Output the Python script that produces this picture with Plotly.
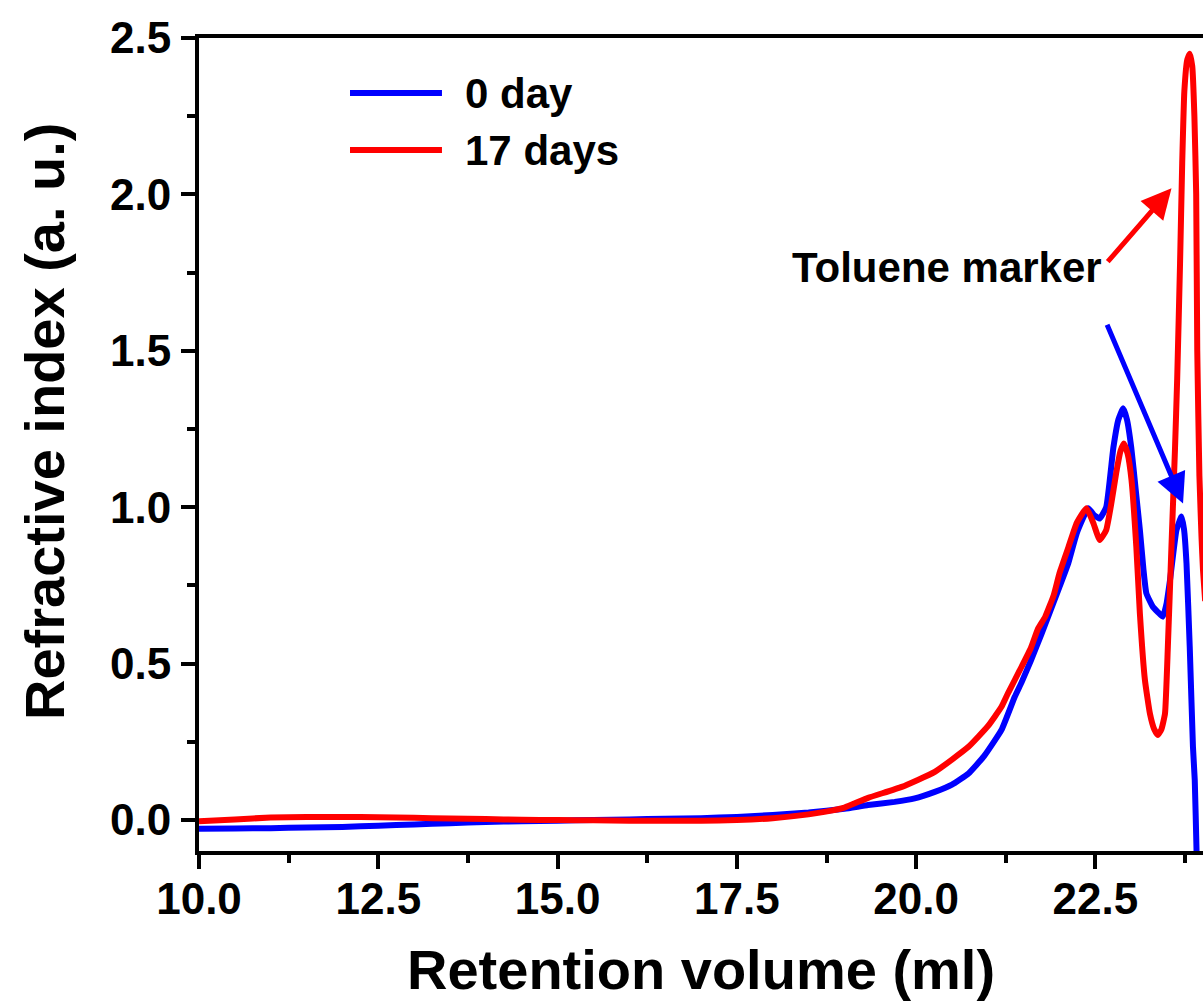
import plotly.graph_objects as go

# ---- data ----
vol_0day = [10.0, 10.5, 11.0, 11.5, 12.0, 12.5, 13.0, 13.5, 14.0, 14.5, 15.0, 15.5, 16.0, 16.5,
            17.0, 17.5, 18.0, 18.5, 19.0, 19.33, 19.7, 19.98, 20.26, 20.5, 20.73, 20.95, 21.19,
            21.375, 21.47, 21.6, 21.75, 22.0, 22.12, 22.24, 22.40, 22.48, 22.56, 22.65, 22.75,
            22.82, 22.886, 22.94, 23.0, 23.06, 23.12, 23.17, 23.21, 23.30, 23.37, 23.44, 23.49,
            23.54, 23.63, 23.70, 23.735, 23.77, 23.815, 23.86, 23.885, 23.91, 23.93]
ri_0day = [-0.028, -0.027, -0.026, -0.024, -0.022, -0.018, -0.014, -0.010, -0.006, -0.004, -0.002,
           0.000, 0.002, 0.004, 0.006, 0.010, 0.016, 0.024, 0.036, 0.048, 0.058, 0.069, 0.090,
           0.113, 0.149, 0.205, 0.288, 0.394, 0.440, 0.510, 0.596, 0.746, 0.820, 0.917, 0.997,
           0.975, 0.964, 1.000, 1.190, 1.280, 1.316, 1.280, 1.190, 1.060, 0.927, 0.800, 0.725,
           0.682, 0.665, 0.650, 0.690, 0.767, 0.927, 0.970, 0.930, 0.820, 0.554, 0.234, 0.128,
           -0.100, -0.300]

vol_17days = [10.0, 10.5, 11.0, 11.5, 12.0, 12.5, 13.0, 13.5, 14.0, 14.5, 15.0, 15.5, 16.0, 16.5,
              17.0, 17.5, 18.0, 18.5, 18.72, 19.0, 19.33, 19.8, 20.26, 20.73, 21.0, 21.19, 21.28,
              21.47, 21.6, 21.70, 21.8, 21.92, 22.0, 22.12, 22.24, 22.375, 22.47, 22.56, 22.65,
              22.72, 22.79, 22.85, 22.896, 22.95, 23.003, 23.07, 23.12, 23.19, 23.26, 23.32, 23.37,
              23.42, 23.47, 23.51, 23.56, 23.61, 23.64, 23.68, 23.71, 23.74, 23.78, 23.815, 23.85,
              23.88, 23.905, 23.92, 23.95, 23.98, 24.0, 24.03]
ri_17days = [-0.004, 0.002, 0.008, 0.010, 0.010, 0.009, 0.007, 0.005, 0.003, 0.001, 0.000, -0.001,
             -0.002, -0.002, -0.002, 0.000, 0.006, 0.018, 0.026, 0.040, 0.071, 0.106, 0.154, 0.234,
             0.300, 0.362, 0.405, 0.490, 0.550, 0.612, 0.650, 0.720, 0.790, 0.870, 0.950, 0.997,
             0.950, 0.895, 0.927, 1.010, 1.110, 1.180, 1.204, 1.170, 1.087, 0.874, 0.660, 0.448,
             0.340, 0.290, 0.272, 0.290, 0.340, 0.554, 0.874, 1.190, 1.410, 1.780, 2.100, 2.330,
             2.430, 2.450, 2.410, 2.250, 2.000, 1.500, 1.100, 0.900, 0.800, 0.700]

series_names = ["0 day", "17 days"]
series_colors = ["#0000FF", "#FF0000"]

x_ticks = [10.0, 12.5, 15.0, 17.5, 20.0, 22.5]
y_ticks = [0.0, 0.5, 1.0, 1.5, 2.0, 2.5]

FONT = "Liberation Sans, Arial, Helvetica, sans-serif"

fig = go.Figure()
for xs, ys, name, col in [(vol_0day, ri_0day, series_names[0], series_colors[0]),
                          (vol_17days, ri_17days, series_names[1], series_colors[1])]:
    fig.add_trace(go.Scatter(x=xs, y=ys, mode="lines", name=name,
                             line=dict(color=col, width=6, shape="spline", smoothing=0.4),
                             showlegend=False))

axis_common = dict(
    showgrid=False, zeroline=False, showline=True, linecolor="black", linewidth=4,
    ticks="outside", ticklen=14, tickwidth=4, tickcolor="black",
    tickfont=dict(family=FONT, size=44, color="black", weight="bold"),
    tickformat=".1f",
)

fig.update_xaxes(range=[10, 24.0], tickvals=x_ticks, mirror=True, ticklabelstandoff=-8,
                 minor=dict(dtick=1.25, tick0=10, ticks="outside", ticklen=8, tickwidth=4,
                            tickcolor="black", showgrid=False),
                 **axis_common)
fig.update_yaxes(range=[-0.099, 2.5], tickvals=y_ticks, mirror=False, ticklabelstandoff=1,
                 minor=dict(dtick=0.25, tick0=0, ticks="outside", ticklen=8, tickwidth=4,
                            tickcolor="black", showgrid=False),
                 **axis_common)

annotations = []
# axis titles
annotations.append(dict(text="Retention volume (ml)", xref="paper", yref="paper",
                        x=0.5, y=(851 - 969) / 813, xanchor="center", yanchor="middle",
                        showarrow=False,
                        font=dict(family=FONT, size=56, color="black", weight="bold")))
annotations.append(dict(text="Refractive index (a. u.)", xref="paper", yref="paper",
                        x=(45 - 199) / 1004, y=(851 - 421) / 813, xanchor="center",
                        yanchor="middle", textangle=-90, showarrow=False,
                        font=dict(family=FONT, size=56, color="black", weight="bold")))
# in-plot label and arrows
annotations.append(dict(text="Toluene marker", x=20.43, y=1.765, xref="x", yref="y",
                        xanchor="center", yanchor="middle", showarrow=False,
                        font=dict(family=FONT, size=42, color="black", weight="bold")))
annotations.append(dict(text="", x=23.561, y=2.020, ax=22.654, ay=1.780, xref="x", yref="y",
                        axref="x", ayref="y", showarrow=True, arrowhead=2, arrowsize=1.2,
                        arrowwidth=5, arrowcolor="#FF0000"))
annotations.append(dict(text="", x=23.722, y=1.012, ax=22.654, ay=1.588, xref="x", yref="y",
                        axref="x", ayref="y", showarrow=True, arrowhead=2, arrowsize=1.2,
                        arrowwidth=5, arrowcolor="#0000FF"))

# legend drawn manually (long line samples)
shapes = []
legend_rows = [0.9323, 0.8622]
for name, col, yy in zip(series_names, series_colors, legend_rows):
    shapes.append(dict(type="line", xref="paper", yref="paper", x0=0.1504, x1=0.2420,
                       y0=yy, y1=yy, line=dict(color=col, width=6)))
    annotations.append(dict(text=name, xref="paper", yref="paper", x=0.2629, y=yy,
                            xanchor="left", yanchor="middle", showarrow=False,
                            font=dict(family=FONT, size=42, color="black", weight="bold")))

fig.update_layout(
    width=1203, height=1006,
    margin=dict(l=199, r=0, t=38, b=155),
    paper_bgcolor="white", plot_bgcolor="white",
    annotations=annotations, shapes=shapes,
    showlegend=False,
)

fig.write_html("out.html")
